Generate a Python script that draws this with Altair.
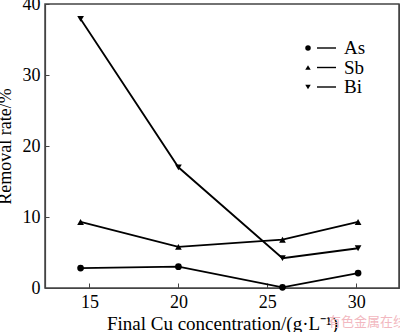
import altair as alt
import pandas as pd

x_vals = [14.5, 20.0, 25.85, 30.1]
as_vals = [2.8, 3.0, 0.1, 2.1]
sb_vals = [9.3, 5.8, 6.8, 9.3]
bi_vals = [37.9, 17.0, 4.2, 5.6]
series = ["As", "Sb", "Bi"]
shapes = ["circle", "triangle-up", "triangle-down"]

rows = []
for name, vals in zip(series, [as_vals, sb_vals, bi_vals]):
    for x, v in zip(x_vals, vals):
        rows.append({"x": x, "y": v, "s": name})
df = pd.DataFrame(rows)
leg = pd.DataFrame({"s": series})

FONT = "Liberation Serif"
xs = alt.Scale(domain=[12.5, 32.4], nice=False, zero=False)
ys = alt.Scale(domain=[0, 40], nice=False)
shape_scale = alt.Scale(domain=series, range=shapes)

lines = alt.Chart(df).mark_line(color="black", strokeWidth=1.8).encode(
    x=alt.X("x:Q", scale=xs,
            axis=alt.Axis(values=[15, 20, 25, 30], title="Final Cu concentration/(g\u00b7L\u207b\u00b9)",
                          tickSize={"expr": "-5"}, labelPadding=10, titlePadding=3,
                          labelFont=FONT, titleFont=FONT, labelFontSize=18, titleFontSize=19)),
    y=alt.Y("y:Q", scale=ys,
            axis=alt.Axis(values=[0, 10, 20, 30, 40], title="Removal rate/%",
                          tickSize={"expr": "-4"}, labelPadding=9, titlePadding=8,
                          labelFont=FONT, titleFont=FONT, labelFontSize=18, titleFontSize=18)),
    detail="s:N",
)
pts = alt.Chart(df).mark_point(filled=True, color="black", opacity=1, size=45).encode(
    x=alt.X("x:Q", scale=xs),
    y=alt.Y("y:Q", scale=ys),
    shape=alt.Shape("s:N", scale=shape_scale, legend=None),
)

ly = alt.Y("s:N", scale=alt.Scale(type="point", domain=series, range=[44, 83], padding=0), axis=None)
leg_pts = alt.Chart(leg).mark_point(filled=True, color="black", opacity=1, size=30).encode(
    x=alt.value(263), y=ly, shape=alt.Shape("s:N", scale=shape_scale, legend=None))
leg_lines = alt.Chart(leg).mark_rule(color="black", strokeWidth=1.4).encode(
    x=alt.value(272), x2=alt.value(291), y=ly)
leg_text = alt.Chart(leg).mark_text(align="left", baseline="middle", font=FONT, fontSize=19).encode(
    x=alt.value(299), y=ly, text="s:N")

wm = alt.Chart(pd.DataFrame({"t": ["有色金属在线"]})).mark_text(
    align="left", baseline="middle", font="Noto Sans CJK SC", fontSize=13, color="#f2b8c0").encode(
    x=alt.value(283), y=alt.value(318), text="t:N")

chart = alt.layer(lines, pts, leg_pts, leg_lines, leg_text, wm).resolve_scale(
    y="independent", shape="shared"
).properties(
    width=354, height=284,
    autosize=alt.AutoSizeParams(type="none"),
    padding={"left": 45, "top": 4, "right": 1, "bottom": 44},
    background="white",
).configure_axis(
    labelColor="black", titleColor="black", titleFontWeight="normal",
    domainColor="#444", tickColor="#444", grid=False, domainWidth=1.2,
).configure_view(stroke="#444", strokeWidth=1.5)

chart.save("out.html", embed_options={"renderer": "svg", "actions": False})
